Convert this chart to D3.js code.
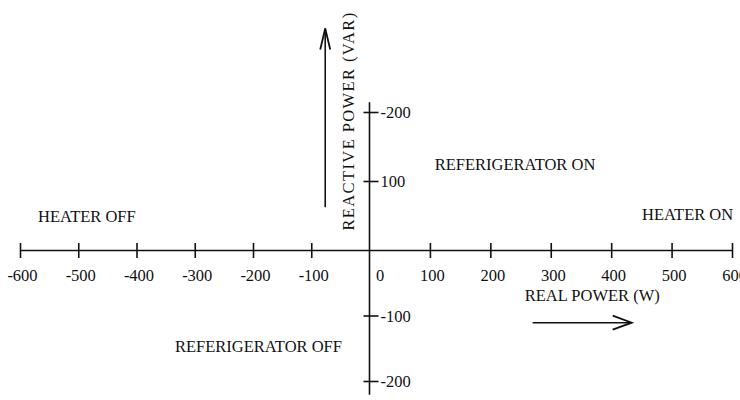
<!DOCTYPE html>
<html>
<head>
<meta charset="utf-8">
<script src="https://cdn.jsdelivr.net/npm/d3@7/dist/d3.min.js"></script>
<style>
  html, body { margin: 0; padding: 0; background: #fff; }
  svg { display: block; }
  text { font-family: "Liberation Serif", "Times New Roman", serif; fill: #111; }
</style>
</head>
<body>
<svg id="chart" width="740" height="400"></svg>
<script>
// ---- data ----
const xTicks = [-600, -500, -400, -300, -200, -100, 0, 100, 200, 300, 400, 500, 600];
const xTickLabels = ["-600", "-500", "-400", "-300", "-200", "-100", "0", "100", "200", "300", "400", "500", "600"];
const yTicks = [200, 100, -100, -200];
const yTickLabels = ["-200", "100", "-100", "-200"];   // as printed in the original
const xAxisTitle = "REAL POWER (W)";
const yAxisTitle = "REACTIVE POWER (VAR)";
const regionLabels = ["HEATER OFF", "REFERIGERATOR ON", "HEATER ON", "REFERIGERATOR OFF"];
// region label anchors in data units (real W, reactive VAR)
const regionX = [-569, 108, 451, -334];
const regionY = [40, 116, 43, -156];

// ---- scales ----
const svg = d3.select("#chart");
const x = d3.scaleLinear().domain([-600, 0, 600]).range([20, 369.5, 732]);
const y = d3.scaleLinear().domain([-200, 0, 200]).range([381, 250, 112]);

const ink = "#111";

// ---- horizontal axis ----
const gx = svg.append("g").attr("transform", `translate(0,${y(0)})`)
  .call(d3.axisBottom(x).tickValues(xTicks).tickSizeOuter(0).tickSizeInner(8)
        .tickFormat((d, i) => xTickLabels[i]));
gx.select(".domain").attr("stroke", ink).attr("stroke-width", 1.6);
gx.selectAll(".tick line").attr("y1", -7).attr("y2", 8).attr("stroke", ink).attr("stroke-width", 1.6);
gx.selectAll(".tick text")
  .attr("y", 31).attr("dy", 0)
  .attr("x", d => d === 0 ? 10 : 2)
  .style("font-size", "16.5px")
  .style("font-family", '"Liberation Serif", serif')
  .attr("fill", ink);
// the tick at 0 is drawn by the vertical axis
gx.selectAll(".tick line").filter(d => d === 0).remove();

// ---- vertical axis ----
const gy = svg.append("g").attr("transform", `translate(${x(0)},0)`)
  .call(d3.axisRight(y).tickValues(yTicks).tickSizeOuter(0).tickSizeInner(8)
        .tickFormat((d, i) => yTickLabels[i]));
gy.select(".domain").remove();
gy.append("line")
  .attr("y1", y(214)).attr("y2", y(-221))
  .attr("stroke", ink).attr("stroke-width", 1.6);
gy.selectAll(".tick line").attr("x1", -6).attr("x2", 9).attr("stroke", ink).attr("stroke-width", 1.6);
gy.selectAll(".tick text")
  .attr("x", 11).attr("dy", "0.36em")
  .style("font-size", "16.5px")
  .style("font-family", '"Liberation Serif", serif')
  .attr("fill", ink);

// ---- arrows ----
function arrow(x1, y1, x2, y2, len, half) {
  const ang = Math.atan2(y2 - y1, x2 - x1);
  const bx = x2 - len * Math.cos(ang), by = y2 - len * Math.sin(ang);
  const px = -Math.sin(ang) * half, py = Math.cos(ang) * half;
  svg.append("line").attr("x1", x1).attr("y1", y1).attr("x2", x2).attr("y2", y2)
    .attr("stroke", ink).attr("stroke-width", 1.6);
  svg.append("path")
    .attr("d", `M${bx + px},${by + py}L${x2},${y2}L${bx - px},${by - py}`)
    .attr("fill", "none").attr("stroke", ink).attr("stroke-width", 1.8);
}
// reactive power arrow (up), real power arrow (right)
arrow(x(-76), y(62), x(-76), y(321), 21, 5);
arrow(x(270), y(-111), x(434), y(-111), 19, 7);

// ---- axis titles ----
svg.append("text")
  .attr("transform", `translate(${x(-26)},${y(187)}) rotate(-90)`)
  .attr("text-anchor", "middle")
  .style("font-size", "16.5px")
  .style("letter-spacing", "1.4px")
  .text(yAxisTitle);

svg.append("text")
  .attr("x", x(257)).attr("y", y(-78))
  .style("font-size", "16.5px")
  .text(xAxisTitle);

// ---- region labels ----
svg.selectAll("text.region").data(regionLabels).join("text")
  .attr("class", "region")
  .attr("x", (d, i) => x(regionX[i]))
  .attr("y", (d, i) => y(regionY[i]))
  .style("font-size", "16.5px")
  .text(d => d);
</script>
</body>
</html>
